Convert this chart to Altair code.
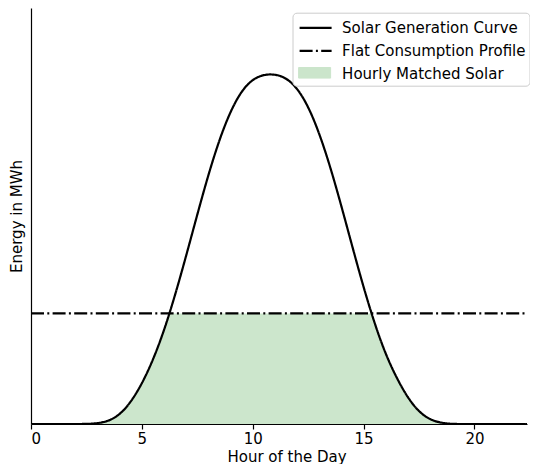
import altair as alt
import pandas as pd

# ---- data ----
hours = [0, 0.5, 1, 1.5, 2, 2.5, 3, 3.5, 4, 4.5, 5, 5.5, 6, 6.5, 7, 7.5, 8, 8.5,
         9, 9.5, 10, 10.5, 11, 11.5, 12, 12.5, 13, 13.5, 14, 14.5, 15, 15.5,
         16, 16.5, 17, 17.5, 18, 18.5, 19, 19.5, 20, 20.5, 21, 21.5, 22, 22.5, 23]
solar = [0, 0, 0, 0, 0, 0, 0.02, 0.08, 0.26, 0.62, 1.14, 1.82, 2.66, 3.68, 4.81,
         5.99, 7.13, 8.14, 8.95, 9.53, 9.86, 9.99, 10.0, 9.90, 9.61, 9.09, 8.32,
         7.35, 6.23, 5.05, 3.90, 2.86, 1.98, 1.30, 0.74, 0.34, 0.12, 0.03, 0,
         0, 0, 0, 0, 0, 0, 0, 0]
flat_level = 3.16
flat_hours = [0, 23]
series_names = ["Solar Generation Curve", "Flat Consumption Profile", "Hourly Matched Solar"]
x_ticks = [0, 5, 10, 15, 20]
x_max = 22.37
y_max = 11.89

FONT = "DejaVu Sans"
FS = 15

solar_df = pd.DataFrame({"hour": hours, "value": solar, "series": series_names[0]})
flat_df = pd.DataFrame({"hour": flat_hours, "value": [flat_level] * len(flat_hours),
                        "series": series_names[1]})
fill_df = pd.DataFrame({"hour": hours, "value": solar, "fillseries": series_names[2]})
cover_df = pd.DataFrame({"hour": [0], "hour2": [x_max], "value": [flat_level], "value2": [y_max]})

x_scale = alt.Scale(domain=[0, x_max], nice=False, zero=False)
y_scale = alt.Scale(domain=[0, y_max], nice=False)
x_axis = alt.Axis(values=x_ticks, title="Hour of the Day", grid=False, zindex=1,
                  tickSize=5, labelPadding=2, titlePadding=3, titleX=255.5)
y_axis = alt.Axis(ticks=False, labels=False, title="Energy in MWh", grid=False, zindex=1,
                  titlePadding=6.5)

X = alt.X("hour:Q", scale=x_scale, axis=x_axis)
Y = alt.Y("value:Q", scale=y_scale, axis=y_axis)

RECT = "M-1.6,-0.53H1.6V0.53H-1.6Z"
LINE = "M-1.6,0H1.6"
LEG_X = 261.5
LEG_Y = 4.7
LEG_PAD = 3.6
SYM_OFF = 8

line_legend = alt.Legend(
    title=None, orient="none", legendX=LEG_X, legendY=LEG_Y,
    symbolType=LINE, symbolSize=400, symbolStrokeWidth=2.2, symbolStrokeColor="black",
    symbolFillColor="transparent",
    symbolOffset=SYM_OFF, labelOffset=15, rowPadding=3, padding=LEG_PAD,
    labelFont=FONT, labelFontSize=FS, labelColor="black", labelLimit=400,
    strokeColor="#cccccc", fillColor="white", cornerRadius=4, zindex=1,
)
fill_legend = alt.Legend(
    title=None, orient="none", legendX=LEG_X, legendY=LEG_Y + 46,
    symbolType=RECT, symbolSize=400, symbolStrokeWidth=1, symbolStrokeColor="#008000",
    symbolFillColor="#008000", symbolOpacity=0.2,
    symbolOffset=SYM_OFF, labelOffset=15, padding=LEG_PAD,
    labelExpr="''", labelFontSize=FS, zindex=2,
)

# third entry of the dash scale is an invisible dash (its symbol comes from the fill legend)
dash_scale = alt.Scale(domain=series_names, range=[[1, 0], [13, 3.3, 2, 3.3], [0, 100]])

area = alt.Chart(fill_df).mark_area(interpolate="basis", opacity=0.2, clip=True).encode(
    x=X, y=Y,
    color=alt.Color("fillseries:N", scale=alt.Scale(domain=[series_names[2]], range=["#008000"]),
                    legend=fill_legend),
)

cover = alt.Chart(cover_df).mark_rect(color="white", clip=True).encode(
    x=X, x2="hour2:Q", y=Y, y2="value2:Q")

lines = alt.Chart(pd.concat([solar_df, flat_df])).mark_line(
    interpolate="basis", color="black", strokeWidth=2.2, clip=True
).encode(
    x=X, y=Y,
    strokeDash=alt.StrokeDash("series:N", scale=dash_scale, legend=line_legend),
)

chart = alt.layer(area, cover, lines).properties(
    width=496, height=416,
    padding={"left": 1, "top": 0, "right": 0, "bottom": 0},
).configure_view(stroke=None).configure_axis(
    domainColor="black", domainWidth=1.2, tickColor="black", tickWidth=1.2,
    labelFont=FONT, labelFontSize=FS, labelColor="black",
    titleFont=FONT, titleFontSize=FS, titleFontWeight="normal", titleColor="black",
)

chart.save("out.html", embed_options={"renderer": "svg", "actions": False})
